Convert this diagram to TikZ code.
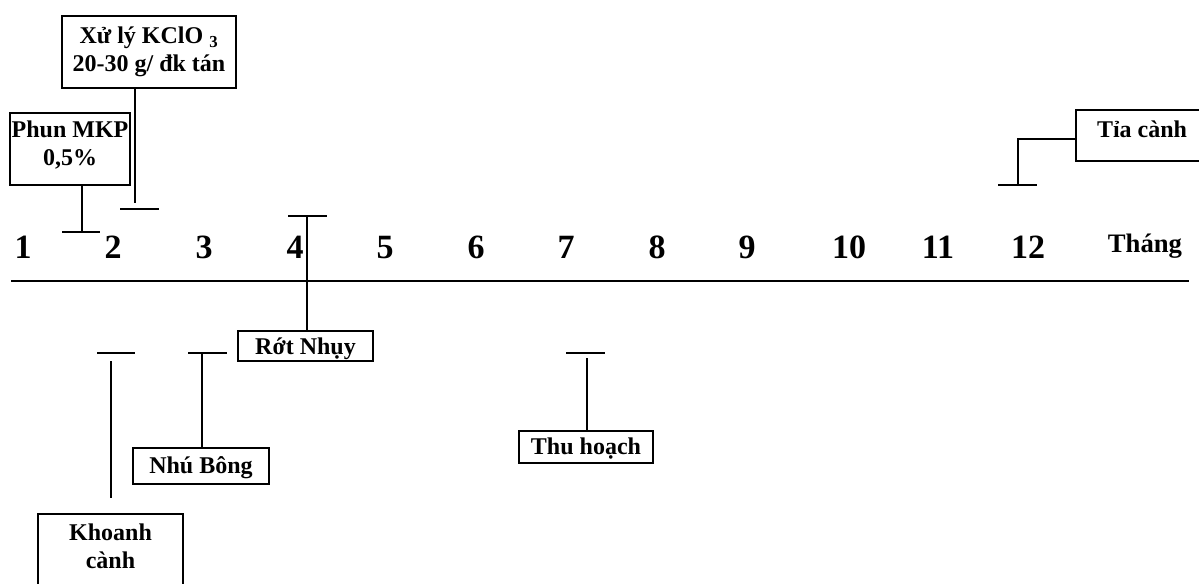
\documentclass[tikz,border=0pt]{standalone}
\usepackage{fontspec}
\setmainfont{Liberation Serif}
\begin{document}
\begin{tikzpicture}[x=0.75pt,y=-0.75pt,
  conn/.style={line width=1.5pt},
  box/.style={draw, line width=1.5pt, inner sep=0pt},
  lbl/.style={font=\fontsize{18pt}{21pt}\selectfont\bfseries, align=center, inner sep=0pt},
  num/.style={font=\fontsize{25.5pt}{28pt}\selectfont\bfseries, anchor=base, inner sep=0pt},
  axis/.style={line width=2.2pt}]
\useasboundingbox (0,0) rectangle (1199,583);
\clip (0,0) rectangle (1199,583);

% month axis
\foreach \m/\xx in {1/23,2/113,3/204,4/295,5/385,6/476,7/566,8/657,9/747,10/849,11/938,12/1028}
  \node[num] (m\m) at (\xx,258) {\m};
\node[num, font=\fontsize{20pt}{24pt}\selectfont\bfseries] (thang) at (1145,252) {Tháng};
\coordinate (axL) at (11,281);
\coordinate (axR) at (1189,281);
\draw[axis] (axL) -- (axR);

% boxes
\node[box, minimum width=174*0.75pt, minimum height=72*0.75pt] (xuly) at (149,52) {};
\node[lbl] (xulyT) at (149,52) {Xử lý KClO \textsubscript{3}\\20-30 g/ đk tán};

\node[box, minimum width=120*0.75pt, minimum height=72*0.75pt] (mkp) at (70,149) {};
\node[lbl] (mkpT) at (70,145) {Phun MKP\\0,5\%};

\node[box, minimum width=135*0.75pt, minimum height=30*0.75pt] (rot) at (305.5,346) {};
\node[lbl] (rotT) at (305.5,349) {Rớt Nhụy};

\node[box, minimum width=136*0.75pt, minimum height=36*0.75pt] (nhu) at (201,466) {};
\node[lbl] (nhuT) at (201,468) {Nhú Bông};

\node[box, minimum width=134*0.75pt, minimum height=32*0.75pt] (thu) at (586,447) {};
\node[lbl] (thuT) at (586,449) {Thu hoạch};

\node[box, minimum width=145*0.75pt, minimum height=100*0.75pt] (kho) at (110.5,564) {};
\node[lbl] (khoT) at (110.5,546) {Khoanh\\cành};

\node[box, minimum width=140*0.75pt, minimum height=51*0.75pt] (tia) at (1146,135.5) {};
\node[lbl] (tiaT) at (1142,129) {Tỉa cành};

% connectors and ticks
\coordinate (mkpE) at (82,232);
\coordinate (mkpA) at (62,232); \coordinate (mkpB) at (100,232);
\draw[conn] (mkp.south -| mkpE) -- (mkpE);
\draw[conn] (mkpA) -- (mkpB);

\coordinate (xulyE) at (135,203);
\coordinate (xulyA) at (120,209); \coordinate (xulyB) at (159,209);
\draw[conn] (xuly.south -| xulyE) -- (xulyE);
\draw[conn] (xulyA) -- (xulyB);

\coordinate (rotA) at (288,216); \coordinate (rotB) at (327,216);
\coordinate (rotE) at (307,216);
\draw[conn] (rotA) -- (rotB);
\draw[conn] (rot.north -| rotE) -- (rotE);

\coordinate (khoA) at (97,353); \coordinate (khoB) at (135,353);
\coordinate (khoE1) at (111,361); \coordinate (khoE2) at (111,498);
\draw[conn] (khoA) -- (khoB);
\draw[conn] (khoE1) -- (khoE2);

\coordinate (nhuA) at (188,353); \coordinate (nhuB) at (227,353);
\coordinate (nhuE) at (202,353);
\draw[conn] (nhuA) -- (nhuB);
\draw[conn] (nhu.north -| nhuE) -- (nhuE);

\coordinate (thuA) at (566,353); \coordinate (thuB) at (605,353);
\coordinate (thuE) at (587,358);
\draw[conn] (thuA) -- (thuB);
\draw[conn] (thu.north -| thuE) -- (thuE);

\coordinate (tiaK) at (1018,139);
\coordinate (tiaE) at (1018,185);
\coordinate (tiaA) at (998,185); \coordinate (tiaB) at (1037,185);
\draw[conn] (tia.west |- tiaK) -- (tiaK) -- (tiaE);
\draw[conn] (tiaA) -- (tiaB);
\end{tikzpicture}
\end{document}
